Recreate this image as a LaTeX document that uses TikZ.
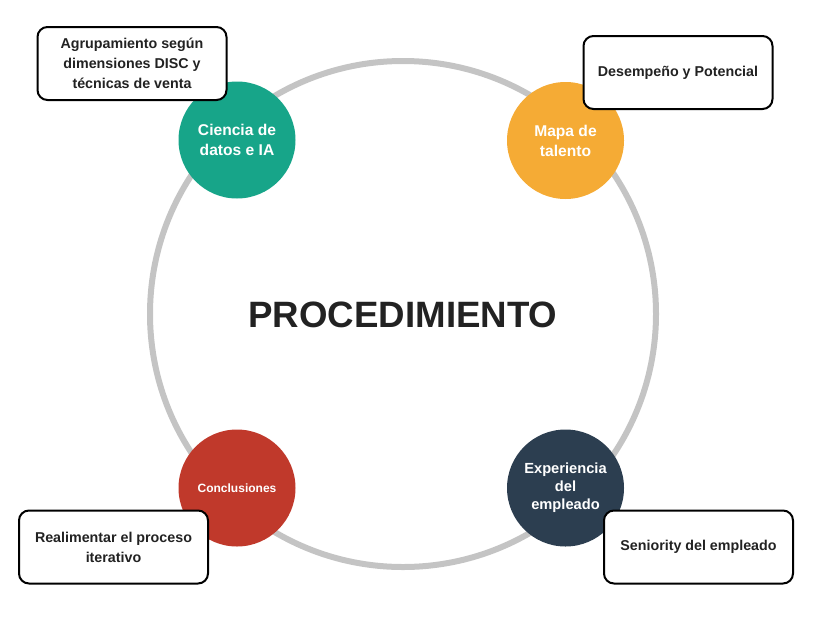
\documentclass[tikz,border=0pt]{standalone}
\usepackage{fontspec}
\setmainfont{Liberation Sans}
\definecolor{ringgray}{HTML}{C4C4C4}
\definecolor{datagreen}{HTML}{17A589}
\definecolor{talentorange}{HTML}{F5AB35}
\definecolor{closered}{HTML}{C0392B}
\definecolor{employeenavy}{HTML}{2C3E50}
\definecolor{textdark}{HTML}{222222}
\begin{document}
\begin{tikzpicture}[x=0.75pt, y=-0.75pt,
  stage/.style={circle, minimum size=87.75pt, inner sep=0pt, align=center, text=white,
    font=\bfseries\fontsize{11.7}{15}\selectfont},
  note/.style={draw=black, line width=1.5pt, fill=white, rounded corners=7.5pt,
    minimum width=141.75pt, minimum height=54.75pt, align=center, text=textdark,
    font=\bfseries\fontsize{10.7}{15}\selectfont}]
\useasboundingbox (0,0) rectangle (817,618);
% ring
\draw[line width=4.5pt, ringgray] (403,314) circle (189.75pt);
\node[font=\bfseries\fontsize{27.5}{33}\selectfont, text=textdark] (title) at (403,315) {PROCEDIMIENTO};
% stages
\node[stage, fill=datagreen] (datos) at (237,140) {Ciencia de\\datos e IA};
\node[stage, fill=talentorange] (mapa) at (565.5,140.5) {Mapa de\\talento};
\node[stage, fill=closered, font=\bfseries\fontsize{9}{11}\selectfont] (concl) at (237,488) {Conclusiones};
\node[stage, fill=employeenavy, font=\bfseries\fontsize{11}{13.5}\selectfont] (exper) at (565.5,488) {Experiencia\\del\\empleado};
% notes
\node[note] (disc) at (132,63.5) {Agrupamiento según\\dimensiones DISC y\\técnicas de venta};
\node[note] (desemp) at (678,72.5) {Desempeño y Potencial};
\node[note] (realim) at (113.5,547) {Realimentar el proceso\\iterativo};
\node[note] (senior) at (698.5,547) {Seniority del empleado};
\end{tikzpicture}
\end{document}
